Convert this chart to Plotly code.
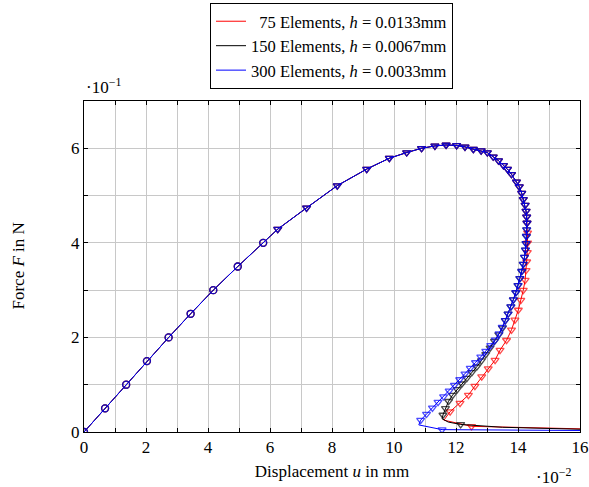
import plotly.graph_objects as go

# ---- data (u in 1e-2 mm, F in 1e-1 N) ----
load_u = [0.0, 0.68, 1.36, 2.03, 2.73, 3.44, 4.17, 4.96, 5.78]
load_F = [0.0, 0.5, 1.0, 1.5, 2.0, 2.5, 3.0, 3.5, 4.0]

top_u = [6.25, 7.18, 8.17, 9.12, 9.85, 10.41, 10.89, 11.32, 11.68, 12.02, 12.29, 12.56,
         12.81, 13.01, 13.20, 13.37, 13.53, 13.66, 13.79, 13.95, 14.04, 14.12, 14.17,
         14.23, 14.26, 14.28, 14.29]
top_F = [4.29, 4.74, 5.21, 5.56, 5.79, 5.91, 6.00, 6.05, 6.07, 6.06, 6.03, 5.98,
         5.95, 5.91, 5.82, 5.74, 5.64, 5.56, 5.45, 5.29, 5.19, 5.05, 4.92,
         4.80, 4.67, 4.55, 4.42]

u300_tail = [14.28, 14.27, 14.26, 14.24, 14.21, 14.17, 14.12, 14.06, 14.00, 13.93, 13.85,
             13.77, 13.68, 13.59, 13.49, 13.39, 13.27, 13.12, 12.96, 12.80, 12.63, 12.46,
             12.29, 12.12, 11.95, 11.78, 11.60, 11.42, 11.24, 11.05, 10.86, 10.80, 11.55, 16.5]
F300_tail = [4.28, 4.14, 3.99, 3.85, 3.70, 3.55, 3.40, 3.25, 3.10, 2.95, 2.80,
             2.65, 2.50, 2.36, 2.22, 2.08, 1.95, 1.83, 1.71, 1.59, 1.47, 1.35,
             1.23, 1.11, 0.99, 0.87, 0.75, 0.63, 0.51, 0.38, 0.25, 0.15, 0.05, 0.03]
m300_tail = [1] * 31 + [0, 1, 0]

u150_tail = [14.28, 14.27, 14.26, 14.24, 14.21, 14.17, 14.12, 14.06, 14.00, 13.93, 13.85,
             13.77, 13.68, 13.59, 13.50, 13.38, 13.24, 13.10, 12.96, 12.82, 12.67, 12.51,
             12.35, 12.19, 12.04, 11.89, 11.76, 11.66, 11.58, 11.55, 11.75, 12.15, 13.5, 16.5]
F150_tail = [4.28, 4.14, 3.99, 3.85, 3.70, 3.55, 3.40, 3.25, 3.10, 2.95, 2.80,
             2.65, 2.50, 2.36, 2.20, 2.06, 1.92, 1.78, 1.64, 1.51, 1.38, 1.26,
             1.14, 1.02, 0.90, 0.78, 0.65, 0.50, 0.36, 0.28, 0.21, 0.16, 0.10, 0.05]
m150_tail = [1] * 29 + [0, 0, 1, 0, 0]

u75_tail = [14.31, 14.31, 14.30, 14.28, 14.26, 14.23, 14.17, 14.09, 14.01, 13.90, 13.79,
            13.63, 13.42, 13.26, 13.04, 12.83, 12.61, 12.40, 12.13, 11.81, 11.61, 12.5, 16.5]
F75_tail = [4.21, 4.00, 3.80, 3.60, 3.42, 3.21, 3.00, 2.79, 2.58, 2.37, 2.16,
            1.94, 1.73, 1.52, 1.34, 1.17, 0.97, 0.78, 0.61, 0.43, 0.25, 0.12, 0.06]
m75_tail = [1] * 20 + [0, 1, 0]

names = ["\u200775 Elements, <i>h</i> = 0.0133mm",
         "150 Elements, <i>h</i> = 0.0067mm",
         "300 Elements, <i>h</i> = 0.0033mm"]
colors = ["#ff0000", "#000000", "#0000ff"]

x_ticks = [0, 2, 4, 6, 8, 10, 12, 14, 16]
y_ticks = [0, 2, 4, 6]

FONT = "Liberation Serif"

fig = go.Figure()

series = [(u75_tail, F75_tail, m75_tail), (u150_tail, F150_tail, m150_tail),
          (u300_tail, F300_tail, m300_tail)]

for (ut, Ft, mt), name, col in zip(series, names, colors):
    xs = load_u + top_u + ut
    ys = load_F + top_F + Ft
    syms = ["circle-open"] * len(load_u) + ["triangle-down-open"] * (len(top_u) + len(ut))
    flags = [1] * (len(load_u) + len(top_u)) + mt
    sizes = [7 if f else 0 for f in flags]
    fig.add_trace(go.Scatter(
        x=xs, y=ys, mode="lines+markers", showlegend=False,
        line=dict(color=col, width=1),
        marker=dict(symbol=syms, size=sizes, color=col, line=dict(color=col, width=1.3)),
    ))

for name, col in zip(names, colors):
    fig.add_trace(go.Scatter(x=[None], y=[None], mode="lines", name=name,
                             line=dict(color=col, width=1)))

axis_common = dict(
    showline=True, linecolor="black", linewidth=1, mirror="allticks",
    ticks="inside", ticklen=4, tickcolor="black",
    showgrid=True, gridcolor="#c8c8c8", gridwidth=1, zeroline=False,
    tickfont=dict(family=FONT, size=17, color="black"),
)

fig.update_xaxes(range=[0, 16], tickmode="array", tickvals=x_ticks,
                 ticktext=[str(v) for v in x_ticks],
                 minor=dict(tickvals=[1, 3, 5, 7, 9, 11, 13, 15], showgrid=True,
                            gridcolor="#c8c8c8", ticks="inside", ticklen=4, tickcolor="black"),
                 title=dict(text="Displacement <i>u</i> in mm", standoff=8,
                            font=dict(family=FONT, size=17, color="black")),
                 **axis_common)
fig.update_yaxes(range=[0, 7], tickmode="array", tickvals=y_ticks,
                 ticktext=[str(v) for v in y_ticks],
                 minor=dict(tickvals=[1, 3, 5, 7], showgrid=True,
                            gridcolor="#c8c8c8", ticks="inside", ticklen=4, tickcolor="black"),
                 **axis_common)

fig.add_annotation(text="Force <i>F</i> in N", xref="paper", yref="paper", x=0, y=0.5,
                   xanchor="center", yanchor="middle", xshift=-66, textangle=-90,
                   showarrow=False, font=dict(family=FONT, size=17, color="black"))
fig.add_annotation(text="·10<sup>−1</sup>", xref="paper", yref="paper", x=0, y=1,
                   xanchor="left", yanchor="bottom", yshift=2, showarrow=False,
                   font=dict(family=FONT, size=17, color="black"))
fig.add_annotation(text="·10<sup>−2</sup>", xref="paper", yref="paper", x=1, y=0,
                   xanchor="right", yanchor="top", yshift=-31, xshift=-7, showarrow=False,
                   font=dict(family=FONT, size=17, color="black"))

fig.update_layout(
    width=589, height=487,
    margin=dict(l=84, r=9, t=101, b=55, autoexpand=False),
    paper_bgcolor="white", plot_bgcolor="white",
    font=dict(family=FONT, size=17, color="black"),
    legend=dict(xref="container", yref="container", x=210 / 589, y=1 - 3 / 487,
                xanchor="left", yanchor="top",
                bordercolor="black", borderwidth=1, bgcolor="white",
                itemwidth=30, font=dict(family=FONT, size=16.5, color="black"),
                tracegroupgap=0),
)

fig.write_html("out.html")
